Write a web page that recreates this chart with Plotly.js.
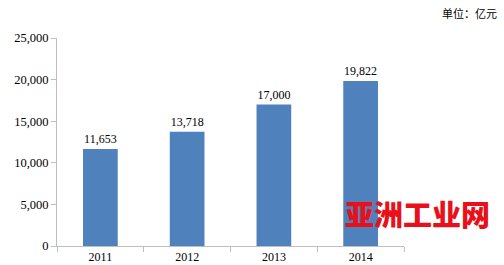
<!DOCTYPE html>
<html><head><meta charset="utf-8">
<script src="https://cdn.plot.ly/plotly-3.0.1.min.js"></script>
<style>html,body{margin:0;padding:0;background:#fff}#c{width:504px;height:265px}</style>
</head><body><div id="c"></div>
<script>
const years = ['2011','2012','2013','2014'];
const values = [11653, 13718, 17000, 19822];
const labels = ['11,653','13,718','17,000','19,822'];
const unitText = '单位：亿元';
const watermark = '亚洲工业网';

const trace = {
  type:'bar', x: years, y: values,
  marker:{color:'#4F81BD'},
  text: labels, textposition:'outside', cliponaxis:false,
  textfont:{family:'Liberation Serif, Times New Roman, serif', size:12, color:'#000'},
  hoverinfo:'none'
};
const layout = {
  width:504, height:265,
  margin:{l:57, r:100, t:38, b:19},
  paper_bgcolor:'#fff', plot_bgcolor:'#fff',
  bargap:0.6, showlegend:false,
  font:{family:'Liberation Serif, Times New Roman, serif', size:12, color:'#000'},
  xaxis:{type:'category', showline:true, linecolor:'#BFBFBF', linewidth:1,
    ticks:'outside', tickson:'boundaries', ticklen:5, tickcolor:'#BFBFBF',
    showgrid:false, zeroline:false, tickfont:{size:12}},
  yaxis:{range:[0,25000], dtick:5000, tickformat:',d', showline:true, linecolor:'#BFBFBF',
    linewidth:1, ticks:'outside', ticklen:5, tickcolor:'#BFBFBF', showgrid:false,
    zeroline:false, tickfont:{size:12.5}},
  annotations:[
    {text:unitText, xref:'paper', yref:'paper', x:1.274, y:1.12, xanchor:'right', yanchor:'middle',
     showarrow:false, font:{family:'Noto Sans CJK SC', size:11, color:'#000'}},
    {text:watermark, xref:'paper', yref:'paper', x:0.825, y:0.16, xanchor:'left', yanchor:'middle',
     showarrow:false, font:{family:'Noto Sans CJK SC', size:29, color:'#E8101A', weight:900}}
  ]
};
Plotly.newPlot('c',[trace],layout,{staticPlot:true});
</script></body></html>
